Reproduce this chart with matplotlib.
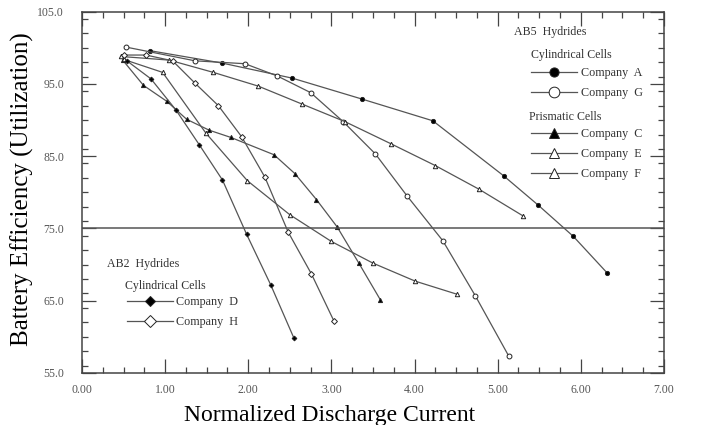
import matplotlib
matplotlib.use("Agg")
import matplotlib.pyplot as plt
from matplotlib.ticker import MultipleLocator, FormatStrFormatter

# --- data ------------------------------------------------------------------
a_x = [0.82, 1.68, 2.53, 3.37, 4.22, 5.07, 5.49, 5.91, 6.32]
a_y = [99.6, 97.9, 95.8, 92.9, 89.9, 82.3, 78.2, 73.9, 68.8]

g_x = [0.53, 1.36, 1.96, 2.35, 2.75, 3.14, 3.53, 3.91, 4.34, 4.73, 5.13]
g_y = [100.1, 98.2, 97.8, 96.1, 93.8, 89.8, 85.3, 79.5, 73.3, 65.7, 57.4]

c_x = [0.49, 0.74, 1.02, 1.26, 1.53, 1.79, 2.31, 2.56, 2.82, 3.07, 3.33, 3.59]
c_y = [98.3, 94.8, 92.6, 90.1, 88.6, 87.6, 85.2, 82.6, 79.0, 75.2, 70.2, 65.1]

e_x = [0.50, 0.97, 1.49, 1.99, 2.50, 3.00, 3.50, 4.01, 4.51]
e_y = [98.4, 96.6, 88.2, 81.6, 76.9, 73.2, 70.2, 67.7, 65.9]

f_x = [0.47, 1.05, 1.58, 2.12, 2.65, 3.16, 3.72, 4.25, 4.78, 5.31]
f_y = [98.8, 98.3, 96.6, 94.7, 92.2, 89.8, 86.7, 83.7, 80.4, 76.7]

d_x = [0.54, 0.83, 1.13, 1.41, 1.69, 1.98, 2.27, 2.55]
d_y = [98.2, 95.7, 91.4, 86.6, 81.7, 74.2, 67.2, 59.8]

h_x = [0.50, 0.77, 1.09, 1.36, 1.64, 1.92, 2.20, 2.48, 2.76, 3.03]
h_y = [99.0, 99.0, 98.2, 95.1, 92.0, 87.7, 82.1, 74.5, 68.7, 62.2]

ref_level = 75.0

# --- figure ----------------------------------------------------------------
serif = ["Liberation Serif", "DejaVu Serif"]
plt.rcParams["font.family"] = serif

fig = plt.figure(figsize=(7.06, 4.25), dpi=100)
ax = fig.add_axes([0.1161, 0.1224, 0.8244, 0.8501])

line_col = "#555555"
lw = 0.9


def series(x, y, marker, filled, ms, label):
    return ax.plot(x, y, color=line_col, lw=lw, marker=marker, ms=ms,
                   mfc="black" if filled else "white", mec="#222222",
                   mew=0.7, label=label)[0]


la = series(a_x, a_y, "o", True, 3.0, "Company  A")
lg = series(g_x, g_y, "o", False, 3.5, "Company  G")
lc = series(c_x, c_y, "^", True, 3.0, "Company  C")
le = series(e_x, e_y, "^", False, 3.2, "Company  E")
lf = series(f_x, f_y, "^", False, 3.2, "Company  F")
ld = series(d_x, d_y, "D", True, 2.4, "Company  D")
lh = series(h_x, h_y, "D", False, 3.0, "Company  H")

ax.axhline(ref_level, color="#555555", lw=1.1)

ax.set_xlim(0, 7)
ax.set_ylim(55, 105)
ax.xaxis.set_major_locator(MultipleLocator(1))
ax.xaxis.set_minor_locator(MultipleLocator(0.25))
ax.yaxis.set_major_locator(MultipleLocator(10))
ax.yaxis.set_minor_locator(MultipleLocator(2))
ax.xaxis.set_major_formatter(FormatStrFormatter("%.2f"))
ax.yaxis.set_major_formatter(FormatStrFormatter("%.1f"))
ax.set_yticks([55, 65, 75, 85, 95, 105])

ax.tick_params(which="both", direction="in", top=True, right=True,
               color="#444444", width=0.9, labelsize=8.5,
               labelcolor="#555555")
ax.tick_params(which="major", length=10)
ax.tick_params(which="minor", length=4.5)
ax.tick_params(axis="y", pad=13)
ax.tick_params(axis="x", pad=8)
for s in ax.spines.values():
    s.set_color("#444444")
    s.set_linewidth(1.1)

ax.set_xlabel("Normalized Discharge Current", fontsize=17)
ax.set_ylabel("Battery Efficiency (Utilization)", fontsize=18)
ax.xaxis.set_label_coords(0.425, -0.09)
ax.yaxis.set_label_coords(-0.083, 0.509)

# --- in-plot legends -------------------------------------------------------
txt = dict(transform=ax.transAxes, fontsize=8.6, color="#333333",
           va="center", ha="left")
ax.text(0.742, 0.944, "AB5  Hydrides", **txt)
ax.text(0.771, 0.880, "Cylindrical Cells", **txt)
ax.text(0.768, 0.7086, "Prismatic Cells", **txt)
ax.text(0.043, 0.3017, "AB2  Hydrides", **txt)
ax.text(0.074, 0.2408, "Cylindrical Cells", **txt)

leg_kw = dict(frameon=False, borderpad=0, borderaxespad=0, markerscale=2.2,
              handlelength=3.8, handletextpad=0.3, labelspacing=0.64,
              prop={"family": serif, "size": 8.7}, labelcolor="#333333")

leg1 = ax.legend(handles=[la, lg], loc="upper left",
                 bbox_to_anchor=(0.7715, 0.8456), **leg_kw)
ax.add_artist(leg1)
leg2 = ax.legend(handles=[lc, le, lf], loc="upper left",
                 bbox_to_anchor=(0.7715, 0.6767), **leg_kw)
ax.add_artist(leg2)
ax.legend(handles=[ld, lh], loc="upper left",
          bbox_to_anchor=(0.0773, 0.2117), **leg_kw)

fig.savefig("out.png", dpi=100)
